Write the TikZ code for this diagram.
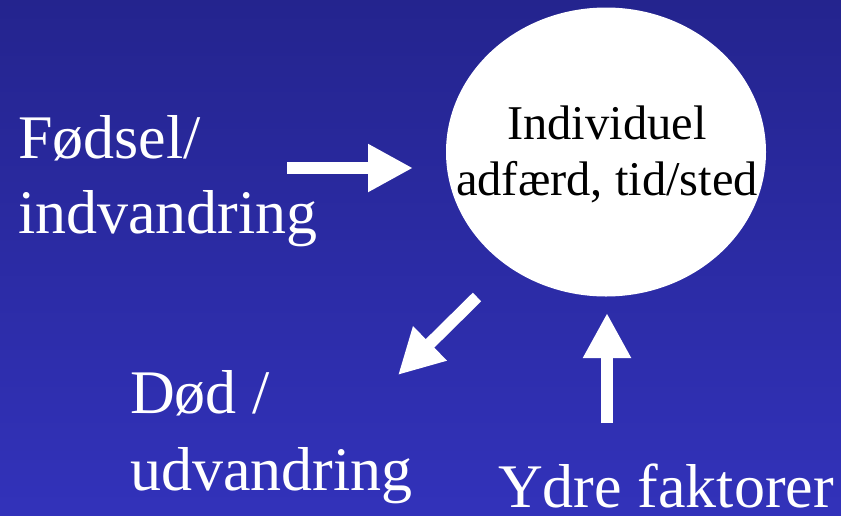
\documentclass[tikz,border=0pt]{standalone}
\usepackage{fontspec}
\setmainfont{Liberation Serif}
\usetikzlibrary{arrows.meta,shapes.geometric}
\definecolor{bgtop}{RGB}{36,36,142}
\definecolor{bgbot}{RGB}{50,50,186}
\tikzset{
  lbl/.style={text=white,font=\fontsize{62}{75}\selectfont,anchor=base west,inner sep=0pt},
  intxt/.style={anchor=base,inner sep=0pt,font=\fontsize{48.5}{56}\selectfont},
  bigarrow/.style={white,line width=12pt,-{Triangle[length=45pt,width=45pt]}}
}
\begin{document}
\begin{tikzpicture}[x=1pt,y=-1pt]
\shade[top color=bgtop,bottom color=bgbot] (0,0) rectangle (841,515);
\useasboundingbox (0,0) rectangle (841,515);
\node[ellipse,fill=white,minimum width=320pt,minimum height=289pt,inner sep=0pt] (ind) at (606,152) {};
\node[intxt] (t1) at (607,139) {Individuel};
\node[intxt] (t2) at (607,195) {adfærd, tid/sted};
\node[lbl] (f1) at (18,158) {Fødsel/};
\node[lbl] (f2) at (18,233) {indvandring};
\node[lbl] (d1) at (130,413) {Død /};
\node[lbl] (d2) at (130,490) {udvandring};
\node[lbl,text depth=0pt] (y1) at (498,507) {Ydre faktorer};
\coordinate (a1s) at (287,168);
\coordinate (a1e) at (413,168);
\coordinate (a2s) at (477,297);
\coordinate (a2e) at (398,375);
\coordinate (a3s) at (607,423);
\coordinate (a3e) at (607,313);
\draw[bigarrow] (a1s) -- (a1e);
\draw[bigarrow] (a2s) -- (a2e);
\draw[bigarrow] (a3s) -- (a3e);
\end{tikzpicture}
\end{document}
